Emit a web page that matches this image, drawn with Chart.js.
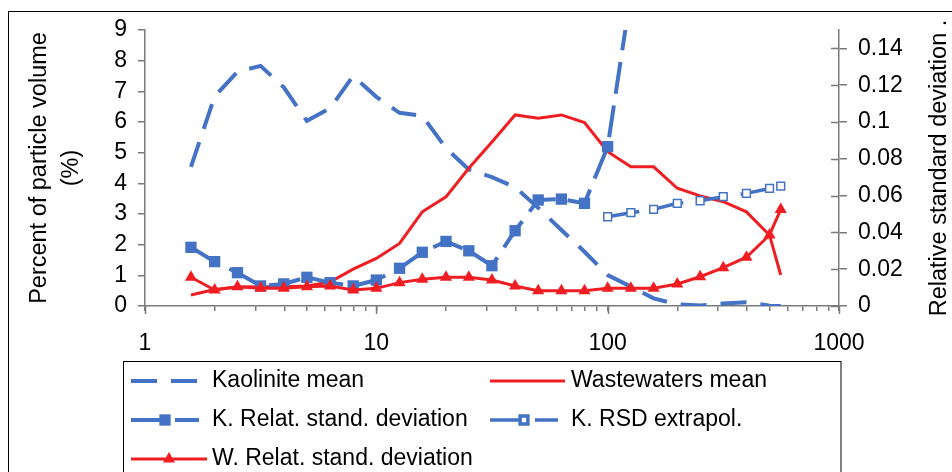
<!DOCTYPE html>
<html>
<head>
<meta charset="utf-8">
<script src="https://cdn.jsdelivr.net/npm/chart.js@4.4.1/dist/chart.umd.min.js"></script>
<style>
  html, body { margin: 0; padding: 0; background: #fff; }
  canvas { display: block; }
</style>
</head>
<body>
<canvas id="chart" width="952" height="472"></canvas>
<script>
const BLUE = '#4472c4';
const RED = '#f01e23';
const AXIS = '#7a7a7a';
const FONT = "'Liberation Sans', Arial, sans-serif";

// particle size classes (x axis, log)
const sizes = [1.58, 2, 2.51, 3.16, 3.98, 5.01, 6.31, 7.94, 10, 12.6, 15.8, 20, 25.1, 31.6,
    39.8, 50.1, 63.1, 79.4, 100, 126, 158, 200, 251, 316, 398, 501, 560];

// percent of particle volume (left axis)
const kaolMean = [4.54, 6.83, 7.64, 7.83, 7.13, 6.04, 6.45, 7.5, 6.82, 6.3, 6.2, 5.15, 4.45, 4.2,
    3.87, 3.2, 2.48, 1.77, 1.01, 0.63, 0.25, 0.05, 0.02, 0.08, 0.12, 0.01, 0];
const wwMean = [0.36, 0.54, 0.62, 0.63, 0.63, 0.65, 0.78, 1.2, 1.55, 2.04, 3.07, 3.56, 4.49, 5.35,
    6.23, 6.12, 6.23, 5.98, 5.03, 4.54, 4.54, 3.84, 3.59, 3.4, 3.07, 2.31, 1.01];

// relative standard deviation (right axis)
const kRsd = [0.0319, 0.0241, 0.0181, 0.0109, 0.012, 0.0156, 0.0127, 0.0109, 0.0141, 0.0205, 0.0292,
    0.0351, 0.03, 0.0219, 0.0409, 0.0576, 0.0581, 0.0558, 0.0866, 0.17,
    null, null, null, null, null, null, null];
const kRsdExtrapol = [null, null, null, null, null, null, null, null, null, null, null, null, null, null,
    null, null, null, null, 0.0485, 0.0507, 0.0525, 0.0558, 0.0572, 0.0594, 0.0612, 0.0639, 0.0652];
const wRsd = [0.0156, 0.0087, 0.0105, 0.0096, 0.0096, 0.0105, 0.0109, 0.0087, 0.0096, 0.0127, 0.0145,
    0.0156, 0.0156, 0.0141, 0.0109, 0.0083, 0.0083, 0.0083, 0.0096, 0.0096, 0.0096, 0.012,
    0.0159, 0.0208, 0.0265, 0.0386, 0.0525];

const xTickLabels = ['1', '10', '100', '1000'];
const rightTicks = [0, 0.02, 0.04, 0.06, 0.08, 0.1, 0.12, 0.14];
const leftTitle = ['Percent of particle volume', '(%)'];
const rightTitle = 'Relative standard deviation .';

const pts = arr => sizes.map((x, i) => ({ x, y: arr[i] }));

// legend layout: [column, row] for each dataset, in dataset order
const legendSlots = [[0, 0], [1, 0], [0, 1], [1, 1], [0, 2]];

const decor = {
    id: 'decor',
    beforeDraw(chart) {
        const ctx = chart.ctx;
        ctx.save();
        ctx.fillStyle = '#fff';
        ctx.fillRect(0, 0, chart.width, chart.height);
        ctx.strokeStyle = '#000';
        ctx.lineWidth = 1;
        ctx.strokeRect(8.5, 11.5, chart.width + 20, chart.height + 20);
        ctx.restore();
    },
    afterDraw(chart) {
        const ctx = chart.ctx;
        const { x, y2 } = chart.scales;
        const area = chart.chartArea;
        ctx.save();

        // longer marks on the decades
        ctx.strokeStyle = AXIS;
        ctx.lineWidth = 1.5;
        xTickLabels.forEach(l => {
            const px = Math.round(x.getPixelForValue(+l)) + 0.5;
            ctx.beginPath();
            ctx.moveTo(px, area.bottom);
            ctx.lineTo(px, area.bottom + 8);
            ctx.stroke();
        });
        // right axis ticks cross the axis
        y2.ticks.forEach(t => {
            const py = Math.round(y2.getPixelForValue(t.value)) + 0.5;
            ctx.beginPath();
            ctx.moveTo(area.right - 8, py);
            ctx.lineTo(area.right, py);
            ctx.stroke();
        });

        // right axis title, reading bottom to top
        ctx.fillStyle = '#000';
        ctx.font = '23.5px ' + FONT;
        ctx.textAlign = 'center';
        ctx.textBaseline = 'middle';
        ctx.translate(940, (area.top + area.bottom) / 2);
        ctx.rotate(-Math.PI / 2);
        ctx.fillText(rightTitle, 0, 0);
        ctx.setTransform(1, 0, 0, 1, 0, 0);

        // legend box
        ctx.strokeStyle = '#000';
        ctx.lineWidth = 1;
        ctx.strokeRect(123.5, 361.5, 717.5, 200);

        const colX = [131, 490], colW = [68, 68], textX = [212, 571], rowY = [381, 420, 459];
        chart.data.datasets.forEach((ds, i) => {
            const [c, r] = legendSlots[i];
            const y = rowY[r];
            const w = c === 1 && r === 0 ? 75 : (c === 0 && r === 2 ? 76 : colW[c]);
            ctx.strokeStyle = ds.borderColor;
            ctx.lineWidth = ds.borderWidth;
            ctx.setLineDash(ds.borderDash || []);
            ctx.beginPath();
            ctx.moveTo(colX[c], y);
            ctx.lineTo(colX[c] + w, y);
            ctx.stroke();
            ctx.setLineDash([]);
            if (ds.pointRadius > 0) {
                ctx.fillStyle = ds.pointBackgroundColor;
                ctx.strokeStyle = ds.pointBorderColor;
                Chart.helpers.drawPoint(ctx, {
                    pointStyle: ds.pointStyle,
                    radius: ds.pointRadius,
                    rotation: 0,
                    borderWidth: ds.pointBorderWidth
                }, colX[c] + w / 2, y);
            }
            ctx.fillStyle = '#000';
            ctx.font = '23px ' + FONT;
            ctx.textAlign = 'left';
            ctx.textBaseline = 'middle';
            ctx.fillText(ds.label, textX[c], y);
        });
        ctx.restore();
    }
};

const tickFont = { family: FONT, size: 23 };

new Chart(document.getElementById('chart'), {
    type: 'line',
    data: {
        datasets: [{
            label: 'Kaolinite mean',
            data: pts(kaolMean),
            yAxisID: 'y',
            borderColor: BLUE,
            borderWidth: 4,
            borderDash: [26, 14],
            pointRadius: 0,
            order: 4
        }, {
            label: 'Wastewaters mean',
            data: pts(wwMean),
            yAxisID: 'y',
            borderColor: RED,
            borderWidth: 3,
            pointRadius: 0,
            order: 3
        }, {
            label: 'K. Relat. stand. deviation',
            data: pts(kRsd),
            yAxisID: 'y2',
            borderColor: BLUE,
            borderWidth: 4,
            borderDash: [32, 12],
            pointStyle: 'rect',
            pointRadius: 8,
            pointBackgroundColor: BLUE,
            pointBorderColor: BLUE,
            pointBorderWidth: 0,
            order: 2
        }, {
            label: 'K. RSD extrapol.',
            data: pts(kRsdExtrapol),
            yAxisID: 'y2',
            borderColor: BLUE,
            borderWidth: 3.5,
            borderDash: [32, 13],
            pointStyle: 'rect',
            pointRadius: 5.5,
            pointBackgroundColor: '#fff',
            pointBorderColor: BLUE,
            pointBorderWidth: 1.5,
            order: 1
        }, {
            label: 'W. Relat. stand. deviation',
            data: pts(wRsd),
            yAxisID: 'y2',
            borderColor: RED,
            borderWidth: 3,
            pointStyle: 'triangle',
            pointRadius: 7,
            pointBackgroundColor: RED,
            pointBorderColor: RED,
            pointBorderWidth: 0,
            order: 0
        }]
    },
    options: {
        responsive: false,
        animation: false,
        devicePixelRatio: 1,
        layout: { padding: { top: 30, left: 0, right: 0, bottom: 0 } },
        elements: { line: { tension: 0 } },
        plugins: { legend: { display: false }, tooltip: { enabled: false } },
        scales: {
            x: {
                type: 'logarithmic',
                min: 1,
                max: 1000,
                afterFit: s => { s.height = 166; },
                afterBuildTicks: s => {
                    s.ticks = s.ticks.filter(t => {
                        const m = t.value / Math.pow(10, Math.floor(Math.log10(t.value) + 1e-9));
                        return Math.abs(m - Math.round(m)) < 1e-6;
                    });
                },
                border: { color: AXIS, width: 1.5 },
                grid: { drawOnChartArea: false, tickLength: 5, color: AXIS, lineWidth: 1.5 },
                ticks: {
                    autoSkip: false,
                    maxRotation: 0,
                    padding: 19,
                    color: '#000',
                    font: tickFont,
                    callback: v => xTickLabels.includes(String(v)) ? String(v) : ''
                }
            },
            y: {
                position: 'left',
                min: 0,
                max: 9,
                afterFit: s => { s.width = 145; },
                border: { color: AXIS, width: 1.5 },
                grid: { drawOnChartArea: false, tickLength: 7, color: AXIS, lineWidth: 1.5 },
                ticks: { stepSize: 1, autoSkip: false, padding: 11, color: '#000', font: tickFont },
                title: {
                    display: true,
                    text: leftTitle,
                    color: '#000',
                    font: { family: FONT, size: 23.5, lineHeight: 1.36 },
                    padding: { top: 24, bottom: 0 }
                }
            },
            y2: {
                position: 'right',
                min: 0,
                max: 0.15,
                afterFit: s => { s.width = 113; },
                afterBuildTicks: s => { s.ticks = rightTicks.map(v => ({ value: v })); },
                border: { color: AXIS, width: 1.5 },
                grid: { drawOnChartArea: false, tickLength: 8, color: AXIS, lineWidth: 1.5 },
                ticks: {
                    autoSkip: false,
                    padding: 11,
                    color: '#000',
                    font: tickFont,
                    callback: v => String(+v.toFixed(2))
                }
            }
        }
    },
    plugins: [decor]
});
</script>
</body>
</html>
